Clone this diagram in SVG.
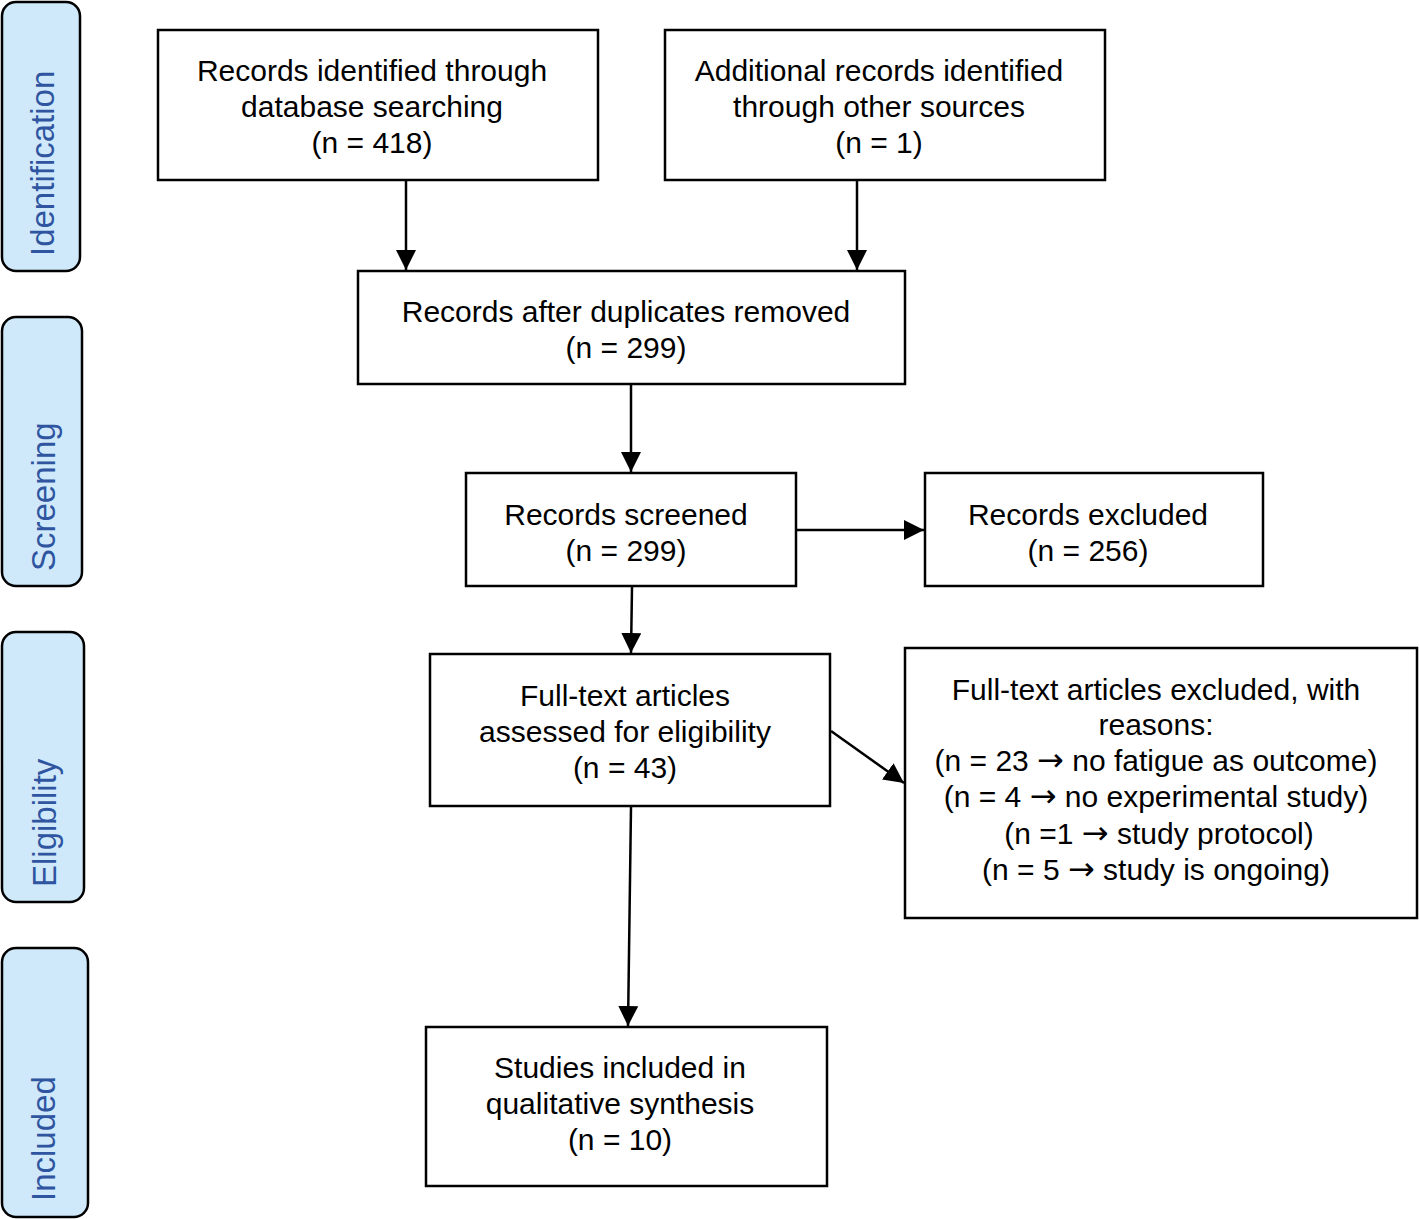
<svg xmlns="http://www.w3.org/2000/svg" width="1419" height="1219" viewBox="0 0 1419 1219">
<style>
.box{fill:#fff;stroke:#000;stroke-width:2.5}
.side{fill:#cfe9fb;stroke:#000;stroke-width:2.5}
.t{font-family:"Liberation Sans",Arial,sans-serif;font-size:30px;fill:#000;text-anchor:middle}
.s{font-family:"Liberation Sans",Arial,sans-serif;font-size:33px;fill:#2f55a0;text-anchor:start}
.a{font-family:"DejaVu Sans",sans-serif;font-size:32px}
.c{stroke:#000;stroke-width:2.5;fill:none;marker-end:url(#ah)}
</style>
<defs>
<marker id="ah" markerWidth="8" markerHeight="8" refX="8" refY="4" orient="auto" markerUnits="strokeWidth">
<path d="M0,0 L8,4 L0,8 Z" fill="#000"/>
</marker>
</defs>
<rect width="1419" height="1219" fill="#fff"/>
<g id="phase-identification"><rect class="side" x="2" y="2" width="78" height="269" rx="14"/><text class="s" transform="translate(54,256) rotate(-90)">Identification</text></g>
<g id="phase-screening"><rect class="side" x="2" y="317" width="80" height="269" rx="14"/><text class="s" transform="translate(55,571) rotate(-90)">Screening</text></g>
<g id="phase-eligibility"><rect class="side" x="2" y="632" width="82" height="270" rx="14"/><text class="s" transform="translate(56,887) rotate(-90)">Eligibility</text></g>
<g id="phase-included"><rect class="side" x="2" y="948" width="86" height="269" rx="14"/><text class="s" transform="translate(55,1201) rotate(-90)">Included</text></g>

<g id="connectors">
<line class="c" x1="406" y1="181" x2="406" y2="270"/>
<line class="c" x1="857" y1="181" x2="857" y2="270"/>
<line class="c" x1="631" y1="385" x2="631" y2="472"/>
<line class="c" x1="797" y1="530" x2="924" y2="530"/>
<line class="c" x1="632" y1="587" x2="631" y2="653"/>
<line class="c" x1="831" y1="731" x2="904" y2="783"/>
<line class="c" x1="631" y1="807" x2="628" y2="1026"/>
</g>

<g id="n1"><rect class="box" x="158" y="30" width="440" height="150"/><text class="t" x="372" y="81">Records identified through</text><text class="t" x="372" y="117">database searching</text><text class="t" x="372" y="153">(n = 418)</text></g>
<g id="n2"><rect class="box" x="665" y="30" width="440" height="150"/><text class="t" x="879" y="81">Additional records identified</text><text class="t" x="879" y="117">through other sources</text><text class="t" x="879" y="153">(n = 1)</text></g>
<g id="n3"><rect class="box" x="358" y="271" width="547" height="113"/><text class="t" x="626" y="322">Records after duplicates removed</text><text class="t" x="626" y="358">(n = 299)</text></g>
<g id="n4"><rect class="box" x="466" y="473" width="330" height="113"/><text class="t" x="626" y="525">Records screened</text><text class="t" x="626" y="561">(n = 299)</text></g>
<g id="n5"><rect class="box" x="925" y="473" width="338" height="113"/><text class="t" x="1088" y="525">Records excluded</text><text class="t" x="1088" y="561">(n = 256)</text></g>
<g id="n6"><rect class="box" x="430" y="654" width="400" height="152"/><text class="t" x="625" y="706">Full-text articles</text><text class="t" x="625" y="742">assessed for eligibility</text><text class="t" x="625" y="778">(n = 43)</text></g>
<g id="n7"><rect class="box" x="905" y="648" width="512" height="270"/>
<text class="t" x="1156" y="700">Full-text articles excluded, with</text>
<text class="t" x="1156" y="735">reasons:</text>
<text class="t" x="1156" y="771">(n = 23 <tspan class="a">→</tspan> no fatigue as outcome)</text>
<text class="t" x="1156" y="807">(n = 4 <tspan class="a">→</tspan> no experimental study)</text>
<text class="t" x="1159" y="844">(n =1 <tspan class="a">→</tspan> study protocol)</text>
<text class="t" x="1156" y="880">(n = 5 <tspan class="a">→</tspan> study is ongoing)</text></g>
<g id="n8"><rect class="box" x="426" y="1027" width="401" height="159"/><text class="t" x="620" y="1078">Studies included in</text><text class="t" x="620" y="1114">qualitative synthesis</text><text class="t" x="620" y="1150">(n = 10)</text></g>
</svg>
